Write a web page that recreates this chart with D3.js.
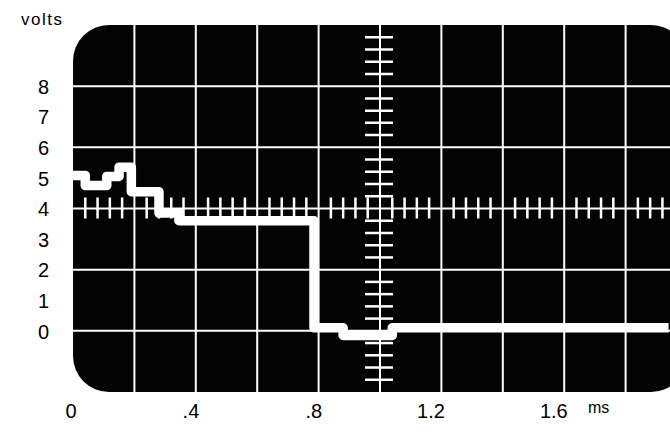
<!DOCTYPE html>
<html>
<head>
<meta charset="utf-8">
<script src="https://cdn.jsdelivr.net/npm/d3@7"></script>
<style>
  html, body { margin: 0; padding: 0; background: #fff; }
  svg { display: block; }
  text { font-family: "Liberation Sans", Arial, sans-serif; fill: #000; }
</style>
</head>
<body>
<svg id="chart" width="670" height="432"></svg>
<script>
// ---- data ----
const timeMs = [0, 0.04, 0.11, 0.15, 0.19, 0.28, 0.345, 0.785, 0.88, 1.04, 1.94];
const volts  = [5.08, 4.75, 5.05, 5.35, 4.55, 3.85, 3.6, 0.1, -0.15, 0.1, 0.1];
const xTickValues = [0, 0.4, 0.8, 1.2, 1.6];
const xTickLabels = ["0", ".4", ".8", "1.2", "1.6"];
const yTickValues = [0, 1, 2, 3, 4, 5, 6, 7, 8];
const xGridValues = [0.2, 0.4, 0.6, 0.8, 1.0, 1.2, 1.4, 1.6, 1.8];
const yGridValues = [0, 2, 4, 6, 8];

const svg = d3.select("#chart");
const x = d3.scaleLinear().domain([0, 2]).range([73, 687]);
const y = d3.scaleLinear().domain([-2, 10]).range([392, 25]);

// screen
const defs = svg.append("defs");
defs.append("clipPath").attr("id", "screenClip")
  .append("rect")
  .attr("x", x(0)).attr("y", y(10))
  .attr("width", x(2) - x(0)).attr("height", y(-2) - y(10))
  .attr("rx", 36).attr("ry", 36);

svg.append("rect")
  .attr("x", x(0)).attr("y", y(10))
  .attr("width", x(2) - x(0)).attr("height", y(-2) - y(10))
  .attr("rx", 36).attr("ry", 36)
  .attr("fill", "#030303");

const scr = svg.append("g").attr("clip-path", "url(#screenClip)");

// grid lines
scr.selectAll("line.vg").data(xGridValues).join("line")
  .attr("class", "vg")
  .attr("x1", d => x(d)).attr("x2", d => x(d))
  .attr("y1", y(10)).attr("y2", y(-2))
  .attr("stroke", "#fff").attr("stroke-width", 2);
scr.selectAll("line.hg").data(yGridValues).join("line")
  .attr("class", "hg")
  .attr("x1", x(0)).attr("x2", x(2))
  .attr("y1", d => y(d)).attr("y2", d => y(d))
  .attr("stroke", "#fff").attr("stroke-width", 2);

// minor ticks on the centre lines
const isMajor = (v, step) => Math.abs(v / step - Math.round(v / step)) < 1e-6;
const minorX = d3.range(1, 50).map(i => i * 0.04).filter(v => !isMajor(v, 0.2));
scr.selectAll("line.mx").data(minorX).join("line")
  .attr("class", "mx")
  .attr("x1", d => x(d)).attr("x2", d => x(d))
  .attr("y1", y(4) - 11).attr("y2", y(4) + 10)
  .attr("stroke", "#fff").attr("stroke-width", 2.5);
const minorY = d3.range(1, 30).map(i => -2 + i * 0.4).filter(v => !isMajor(v, 2));
scr.selectAll("line.my").data(minorY).join("line")
  .attr("class", "my")
  .attr("x1", x(1) - 15).attr("x2", x(1) + 13)
  .attr("y1", d => y(d)).attr("y2", d => y(d))
  .attr("stroke", "#fff").attr("stroke-width", 2.5);

// trace
const pts = timeMs.map((t, i) => [t, volts[i]]);
const line = d3.line().x(d => x(d[0])).y(d => y(d[1])).curve(d3.curveStepAfter);
scr.append("path")
  .attr("d", line(pts))
  .attr("fill", "none")
  .attr("stroke", "#fff")
  .attr("stroke-width", 9.5)
  .attr("stroke-linejoin", "round");

// axes (labels only)
const yAxis = d3.axisLeft(y).tickValues(yTickValues).tickSize(0).tickPadding(0).tickFormat(d3.format("d"));
const gy = svg.append("g").attr("transform", "translate(49,0)").call(yAxis);
gy.select(".domain").remove();
gy.selectAll("text").attr("font-size", 20).attr("font-family", "Liberation Sans, Arial, sans-serif")
  .attr("fill", "#000").attr("dy", "0.36em");

const xAxis = d3.axisBottom(x).tickValues(xTickValues).tickSize(0).tickPadding(0)
  .tickFormat((d, i) => xTickLabels[i]);
const gx = svg.append("g").attr("transform", "translate(0,404)").call(xAxis);
gx.select(".domain").remove();
gx.selectAll("text").attr("font-size", 20).attr("font-family", "Liberation Sans, Arial, sans-serif")
  .attr("fill", "#000").attr("text-anchor", "end").attr("dx", 3).attr("dy", "0.71em");

svg.append("text").attr("x", 588).attr("y", 413)
  .attr("font-size", 16).text("ms");
svg.append("text").attr("x", 21).attr("y", 25)
  .attr("font-size", 17).attr("letter-spacing", 1.5).text("volts");
</script>
</body>
</html>
